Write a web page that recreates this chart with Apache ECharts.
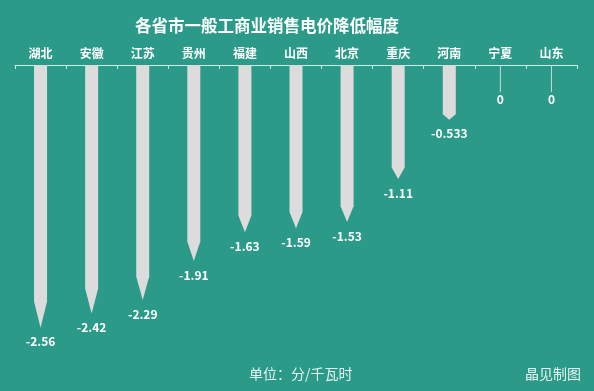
<!DOCTYPE html>
<html>
<head>
<meta charset="utf-8">
<script src="https://cdn.jsdelivr.net/npm/echarts@6/dist/echarts.min.js"></script>
<style>
html,body{margin:0;padding:0;background:#2b9a88;}
#c{width:594px;height:391px;}
</style>
</head>
<body>
<div id="c"></div>
<script>
const categories = ['湖北','安徽','江苏','贵州','福建','山西','北京','重庆','河南','宁夏','山东'];
const values = [-2.56,-2.42,-2.29,-1.91,-1.63,-1.59,-1.53,-1.11,-0.533,0,0];
const titleText = '各省市一般工商业销售电价降低幅度';
const unitText = '单位：分/千瓦时';
const creditText = '晶见制图';

const FONT = '"Noto Sans CJK SC", sans-serif';
const chart = echarts.init(document.getElementById('c'), null, {renderer:'canvas'});

const barData = values.map(v => v === 0
  ? {value: v, label: {distance: 28}}
  : v);
const zeroLineData = values.map(v => v === 0 ? 0 : '-');

chart.setOption({
  backgroundColor: '#2b9a88',
  animation: false,
  title: [{
    text: titleText, left: 130, top: 12,
    textStyle: {color:'#ffffff', fontSize:16.5, fontWeight:'bold', fontFamily: FONT}
  },{
    text: unitText, left: 244, top: 362,
    textStyle: {color:'#e6f4f1', fontSize:14, fontWeight:'normal', fontFamily: FONT}
  },{
    text: creditText, right: 8, top: 362,
    textStyle: {color:'#e6f4f1', fontSize:14, fontWeight:'normal', fontFamily: FONT}
  }],
  grid: {left: 15, right: 17, top: 65, bottom: 18},
  xAxis: {
    type: 'category', data: categories, position: 'top',
    axisLine: {lineStyle: {color:'#cfe9e4', width:1}},
    axisTick: {show: true, inside: true, length: 4, lineStyle: {color:'#cfe9e4'}},
    axisLabel: {color:'#ffffff', fontSize:12, fontWeight:'bold', fontFamily: FONT, margin: 6}
  },
  yAxis: {type:'value', min:-3, max:0, show:false, splitLine:{show:false}},
  series: [{
    type: 'pictorialBar',
    data: barData,
    symbol: 'path://M5,0 L10,10 L10,100 L0,100 L0,10 Z',
    symbolSize: [13, '100%'],
    symbolPosition: 'start',
    itemStyle: {color: '#dcdcdc'},
    label: {
      show: true, position: 'bottom', distance: 8,
      color:'#ffffff', fontSize:12, fontWeight:'bold', fontFamily: FONT,
      formatter: p => String(p.value)
    },
    z: 3
  },{
    type: 'pictorialBar',
    data: zeroLineData,
    symbol: 'rect',
    symbolSize: [1, 27],
    symbolPosition: 'start',
    symbolOffset: [0, 27],
    itemStyle: {color: '#bfe0da'},
    z: 2
  }]
});
</script>
</body>
</html>
